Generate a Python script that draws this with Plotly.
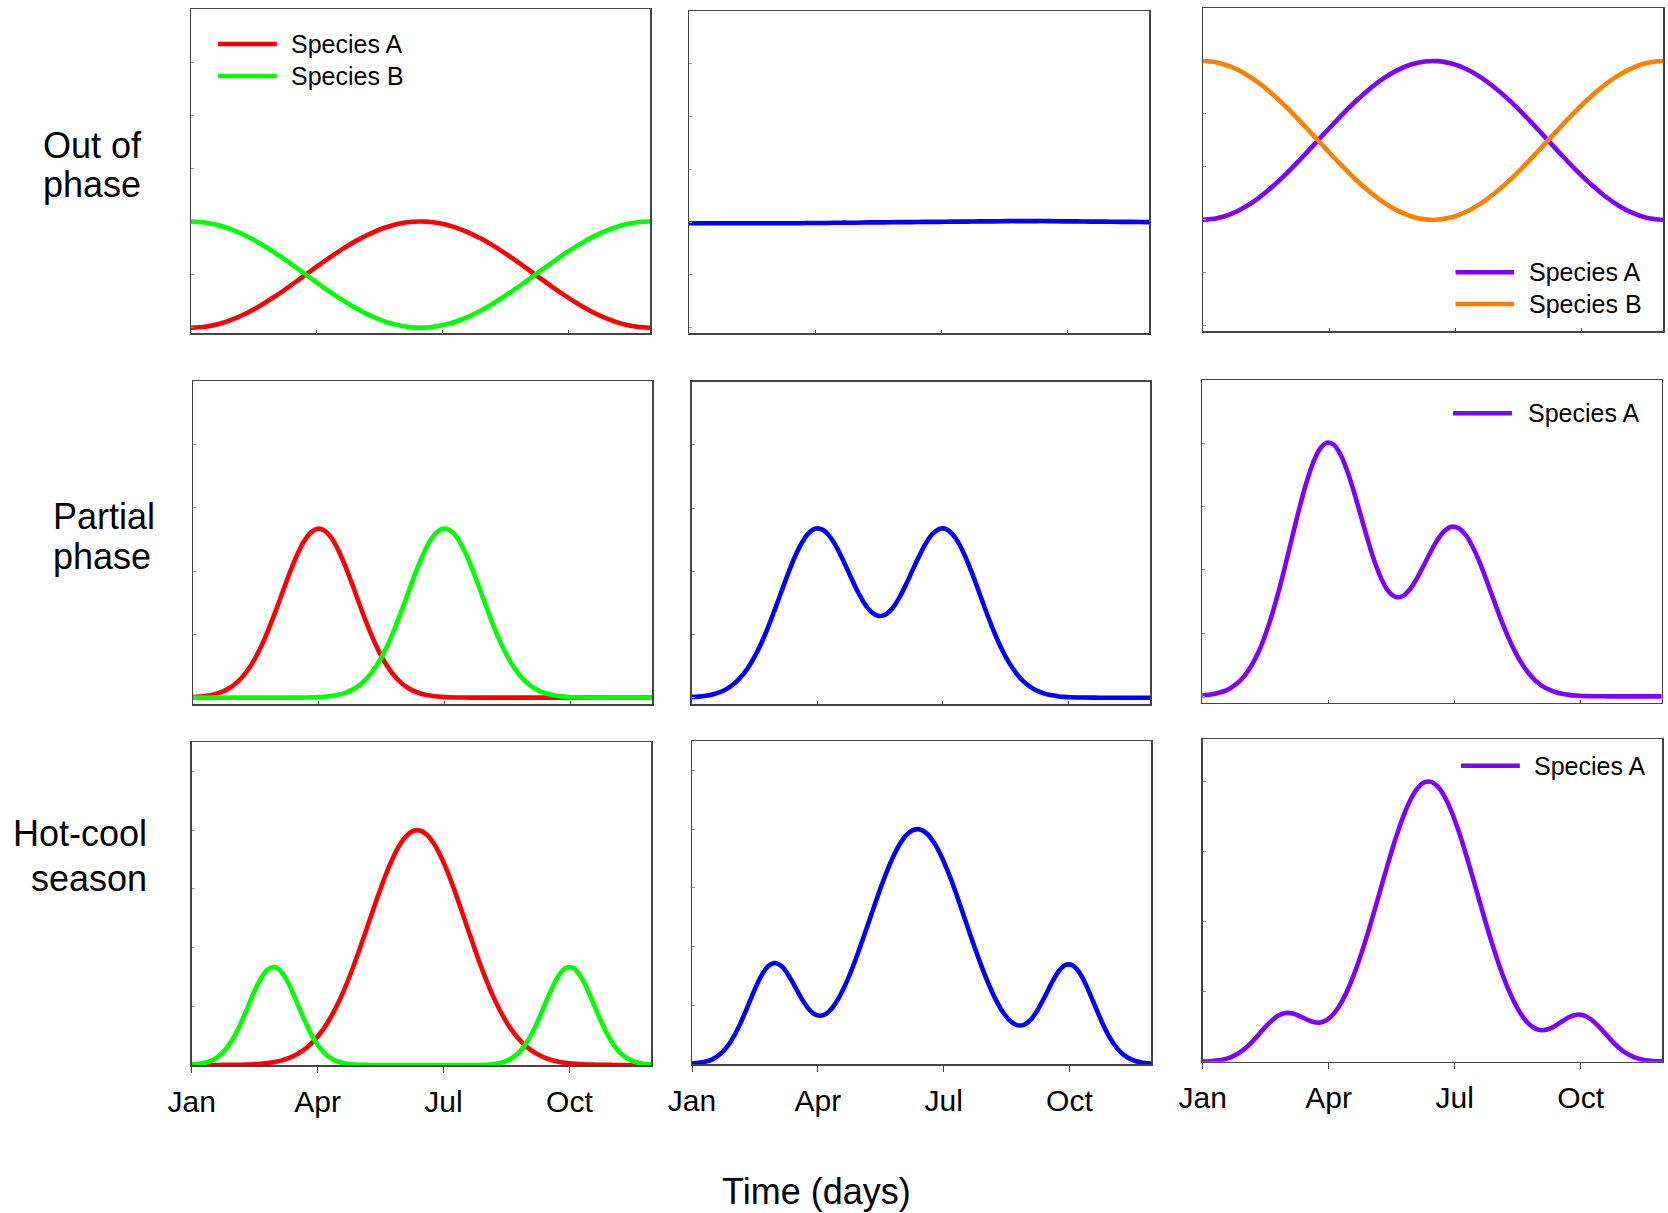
import plotly.graph_objects as go

# ---------------- data ----------------
DAYS_10 = [0, 10, 20, 30, 40, 50, 60, 70, 80, 90, 100, 110, 120, 130, 140, 150, 160,
           170, 180, 190, 200, 210, 220, 230, 240, 250, 260, 270, 280, 290, 300, 310,
           320, 330, 332]
DAYS_5 = [0, 5, 10, 15, 20, 25, 30, 35, 40, 45, 50, 55, 60, 65, 70, 75, 80, 85, 90, 95,
          100, 105, 110, 115, 120, 125, 130, 135, 140, 145, 150, 155, 160, 165, 170, 175,
          180, 185, 190, 195, 200, 205, 210, 215, 220, 225, 230, 235, 240, 245, 250, 255,
          260, 265, 270, 275, 280, 285, 290, 295, 300, 305, 310, 315, 320, 325, 330, 332]
MONTH_TICKS = [0, 91, 182, 273]
MONTH_LABELS = ["Jan", "Apr", "Jul", "Oct"]
ROW_LABELS = [["Out of", "phase"], ["Partial", "phase"], ["Hot-cool", "season"]]
X_TITLE = "Time (days)"
SPECIES = ["Species A", "Species B"]

# Row 1 : out of phase (sampled every 10 days)
OUT_RED = [0.000, 0.018, 0.071, 0.157, 0.273, 0.415, 0.578, 0.756, 0.943, 1.132, 1.316,
           1.489, 1.644, 1.777, 1.881, 1.955, 1.994, 1.997, 1.965, 1.899, 1.800, 1.673,
           1.522, 1.352, 1.170, 0.981, 0.793, 0.613, 0.447, 0.300, 0.178, 0.086, 0.026,
           0.001, 0.000]
OUT_GREEN = [2.000, 1.982, 1.929, 1.843, 1.727, 1.585, 1.422, 1.244, 1.057, 0.868, 0.684,
             0.511, 0.356, 0.223, 0.119, 0.046, 0.006, 0.003, 0.035, 0.102, 0.200, 0.327,
             0.478, 0.648, 0.831, 1.019, 1.207, 1.387, 1.554, 1.700, 1.822, 1.915, 1.974,
             1.999, 2.000]
OUT_BLUE = [1.98, 1.98, 1.98, 1.98, 1.98, 1.98, 1.98, 1.98, 1.98, 1.985, 1.985, 1.99,
            1.99, 1.995, 1.995, 2.0, 2.0, 2.005, 2.005, 2.01, 2.01, 2.015, 2.015, 2.02,
            2.02, 2.02, 2.02, 2.015, 2.015, 2.01, 2.01, 2.005, 2.005, 2.0, 2.0]
OUT_PURPLE = [2.000, 2.027, 2.107, 2.236, 2.410, 2.623, 2.867, 3.135, 3.415, 3.698, 3.974,
              4.234, 4.466, 4.666, 4.822, 4.932, 4.991, 4.996, 4.948, 4.848, 4.700, 4.509,
              4.283, 4.028, 3.754, 3.472, 3.190, 2.919, 2.670, 2.450, 2.267, 2.129, 2.039,
              2.002, 2.000]
OUT_ORANGE = [5.000, 4.973, 4.893, 4.764, 4.590, 4.377, 4.133, 3.865, 3.585, 3.302, 3.026,
              2.766, 2.534, 2.334, 2.178, 2.068, 2.009, 2.004, 2.052, 2.152, 2.300, 2.491,
              2.717, 2.972, 3.246, 3.528, 3.810, 4.081, 4.330, 4.550, 4.733, 4.871, 4.961,
              4.998, 5.000]

# Row 2 : partial phase (sampled every 5 days)
PART_RED = [0.009, 0.017, 0.030, 0.051, 0.084, 0.135, 0.208, 0.311, 0.448, 0.626, 0.843,
            1.098, 1.381, 1.679, 1.973, 2.240, 2.457, 2.605, 2.668, 2.641, 2.526, 2.334,
            2.084, 1.798, 1.500, 1.208, 0.941, 0.708, 0.515, 0.361, 0.245, 0.161, 0.102,
            0.062, 0.037, 0.021, 0.012, 0.006, 0.003, 0.002, 0.001,
            0, 0, 0, 0, 0, 0, 0, 0, 0, 0, 0, 0, 0, 0, 0, 0, 0, 0, 0, 0, 0, 0, 0, 0, 0, 0, 0]
PART_GREEN = [0, 0, 0, 0, 0, 0, 0, 0, 0, 0, 0, 0, 0, 0,
              0.001, 0.001, 0.002, 0.004, 0.008, 0.015, 0.027, 0.046, 0.076, 0.123, 0.191,
              0.288, 0.418, 0.587, 0.796, 1.044, 1.323, 1.619, 1.916, 2.190, 2.419, 2.582,
              2.663, 2.653, 2.555, 2.378, 2.138, 1.858, 1.560, 1.265, 0.992, 0.751, 0.550,
              0.389, 0.266, 0.175, 0.112, 0.069, 0.041, 0.024, 0.013, 0.007, 0.004, 0.002,
              0.001, 0, 0, 0, 0, 0, 0, 0, 0, 0]
PART_BLUE = [0.009, 0.017, 0.030, 0.051, 0.084, 0.135, 0.208, 0.311, 0.448, 0.626, 0.843,
             1.098, 1.381, 1.679, 1.974, 2.241, 2.459, 2.609, 2.676, 2.656, 2.553, 2.380,
             2.160, 1.921, 1.691, 1.496, 1.359, 1.295, 1.311, 1.405, 1.568, 1.780, 2.018,
             2.252, 2.456, 2.603, 2.675, 2.659, 2.558, 2.380, 2.139, 1.858, 1.560, 1.265,
             0.992, 0.751, 0.550, 0.389, 0.266, 0.175, 0.112, 0.069, 0.041, 0.024, 0.013,
             0.007, 0.004, 0.002, 0.001, 0, 0, 0, 0, 0, 0, 0, 0, 0]
PART_PURPLE = [0.014, 0.026, 0.045, 0.077, 0.126, 0.203, 0.312, 0.467, 0.672, 0.939, 1.265,
               1.647, 2.072, 2.519, 2.961, 3.361, 3.688, 3.912, 4.010, 3.977, 3.816, 3.547,
               3.202, 2.820, 2.441, 2.100, 1.830, 1.649, 1.569, 1.586, 1.691, 1.861, 2.069,
               2.283, 2.475, 2.614, 2.681, 2.662, 2.560, 2.381, 2.140, 1.858, 1.560, 1.265,
               0.992, 0.751, 0.550, 0.389, 0.266, 0.175, 0.112, 0.069, 0.041, 0.024, 0.013,
               0.007, 0.004, 0.002, 0.001, 0, 0, 0, 0, 0, 0, 0, 0, 0]

# Row 3 : hot-cool season (sampled every 5 days)
HOT_RED = [0.000, 0.000, 0.000, 0.000, 0.001, 0.002, 0.003, 0.005, 0.008, 0.014, 0.022,
           0.034, 0.053, 0.079, 0.117, 0.170, 0.240, 0.334, 0.454, 0.606, 0.792, 1.013,
           1.271, 1.562, 1.881, 2.219, 2.565, 2.904, 3.223, 3.504, 3.733, 3.897, 3.985,
           3.993, 3.921, 3.772, 3.555, 3.283, 2.971, 2.634, 2.288, 1.947, 1.624, 1.327,
           1.062, 0.833, 0.640, 0.482, 0.356, 0.257, 0.182, 0.126, 0.086, 0.057, 0.037,
           0.024, 0.015, 0.009, 0.006, 0.003, 0.002, 0.001, 0.001, 0.000, 0.000, 0.000,
           0.000, 0.000]
HOT_GREEN = [0.008, 0.019, 0.041, 0.084, 0.160, 0.281, 0.456, 0.687, 0.957, 1.234, 1.474,
             1.629, 1.667, 1.580, 1.386, 1.125, 0.846, 0.588, 0.379, 0.226, 0.125, 0.064,
             0.030, 0.013, 0.005, 0.002, 0.001,
             0, 0, 0, 0, 0, 0, 0, 0, 0, 0, 0, 0, 0, 0,
             0.001, 0.004, 0.009, 0.022, 0.048, 0.096, 0.180, 0.311, 0.498, 0.738, 1.013,
             1.287, 1.513, 1.647, 1.660, 1.548, 1.337, 1.069, 0.791, 0.542, 0.344, 0.202,
             0.110, 0.055, 0.026, 0.011, 0.008]
HOT_BLUE = [0.008, 0.019, 0.041, 0.084, 0.161, 0.283, 0.459, 0.692, 0.965, 1.248, 1.496,
            1.663, 1.720, 1.659, 1.503, 1.295, 1.086, 0.922, 0.833, 0.832, 0.917, 1.077,
            1.301, 1.575, 1.886, 2.221, 2.566, 2.904, 3.223, 3.504, 3.733, 3.897, 3.985,
            3.993, 3.921, 3.772, 3.555, 3.283, 2.971, 2.634, 2.288, 1.948, 1.628, 1.336,
            1.084, 0.881, 0.736, 0.662, 0.667, 0.755, 0.920, 1.139, 1.373, 1.570, 1.684,
            1.684, 1.563, 1.346, 1.075, 0.794, 0.544, 0.345, 0.203, 0.110, 0.055, 0.026,
            0.011, 0.008]
HOT_PURPLE = [0.003, 0.007, 0.016, 0.032, 0.063, 0.110, 0.179, 0.269, 0.376, 0.489, 0.589,
              0.661, 0.695, 0.687, 0.651, 0.603, 0.566, 0.560, 0.600, 0.693, 0.840, 1.038,
              1.283, 1.567, 1.883, 2.220, 2.565, 2.904, 3.223, 3.504, 3.733, 3.897, 3.985,
              3.993, 3.921, 3.772, 3.555, 3.283, 2.971, 2.634, 2.288, 1.947, 1.626, 1.330,
              1.070, 0.851, 0.677, 0.551, 0.476, 0.449, 0.466, 0.516, 0.581, 0.640, 0.671,
              0.663, 0.611, 0.524, 0.418, 0.308, 0.211, 0.133, 0.079, 0.042, 0.021, 0.010,
              0.004, 0.003]

# ---------------- style ----------------
RED, GREEN, BLUE = "#FF0000", "#00FF00", "#0000FF"
PURPLE, ORANGE = "#8000FF", "#FF8000"
FONT = "Liberation Sans, Arial, sans-serif"
W, H = 1668, 1213
LW = 4.6


def px(x):
    return x / W


def py(y):
    return 1 - y / H


# panel boxes in screen pixels (left, right, top, bottom), row-major
BOXES = [
    (191, 650, 9, 333), (689, 1149, 11, 333), (1203, 1663, 8, 331),
    (193, 652, 381, 704), (691.7, 1150, 381.7, 704), (1202.3, 1661.7, 380, 702.7),
    (191.7, 651, 742, 1065), (692, 1151, 741, 1064), (1202.7, 1662.3, 739.3, 1061.7),
]
YRANGES = [[-0.1, 6], [-0.1, 6], [-0.1, 6],
           [-0.1, 5], [-0.1, 5], [-0.1, 5],
           [0, 5.5], [0, 5.5], [0, 4.6]]

panels = [
    (DAYS_10, [(OUT_RED, RED), (OUT_GREEN, GREEN)]),
    (DAYS_10, [(OUT_BLUE, BLUE)]),
    (DAYS_10, [(OUT_PURPLE, PURPLE), (OUT_ORANGE, ORANGE)]),
    (DAYS_5, [(PART_RED, RED), (PART_GREEN, GREEN)]),
    (DAYS_5, [(PART_BLUE, BLUE)]),
    (DAYS_5, [(PART_PURPLE, PURPLE)]),
    (DAYS_5, [(HOT_RED, RED), (HOT_GREEN, GREEN)]),
    (DAYS_5, [(HOT_BLUE, BLUE)]),
    (DAYS_5, [(HOT_PURPLE, PURPLE)]),
]

fig = go.Figure()
layout = dict(
    width=W, height=H,
    margin=dict(l=0, r=0, t=0, b=0, pad=0, autoexpand=False),
    paper_bgcolor="white", plot_bgcolor="white", showlegend=False,
    font=dict(family=FONT, color="black"),
)

for i, ((xs, series), box, yr) in enumerate(zip(panels, BOXES, YRANGES)):
    n = i + 1
    sx = "" if n == 1 else str(n)
    for vals, col in series:
        fig.add_trace(go.Scatter(
            x=xs, y=vals, mode="lines",
            line=dict(color=col, width=LW, shape="spline", smoothing=1.0),
            xaxis="x" + sx, yaxis="y" + sx, hoverinfo="skip",
        ))
    l, r, t, b = box
    bottom_row = i >= 6
    layout["xaxis" + sx] = dict(
        domain=[px(l), px(r)], anchor="y" + sx, range=[0, 332],
        tickmode="array", tickvals=MONTH_TICKS, ticktext=MONTH_LABELS,
        showticklabels=bottom_row,
        ticks="outside" if bottom_row else "inside",
        ticklen=6 if bottom_row else 3, tickwidth=1, tickcolor="#444",
        tickfont=dict(size=30, family=FONT, color="black"),
        ticklabelstandoff=3,
        showline=True, mirror=True, linecolor="#444", linewidth=1.5,
        showgrid=False, zeroline=False, fixedrange=True, automargin=False,
    )
    layout["yaxis" + sx] = dict(
        domain=[py(b), py(t)], anchor="x" + sx, range=yr,
        tick0=0, dtick=1, ticks="inside", ticklen=3, tickwidth=1, tickcolor="#999",
        showticklabels=False,
        showline=True, mirror=True, linecolor="#444", linewidth=1.5,
        showgrid=False, zeroline=False, fixedrange=True, automargin=False,
    )

fig.update_layout(**layout)

annotations = []
shapes = []

# row labels (two lines each), centre positions in screen pixels
ROW_LABEL_POS = [
    [(92, 145), (92, 184)],
    [(104, 516), (101.5, 556)],
    [(80, 833), (88.5, 878)],
]
for lines, poss in zip(ROW_LABELS, ROW_LABEL_POS):
    for txt, (ax, ay) in zip(lines, poss):
        annotations.append(dict(
            text=txt, x=px(ax), y=py(ay), xref="paper", yref="paper",
            xanchor="center", yanchor="middle", showarrow=False,
            font=dict(size=36, family=FONT, color="black"),
        ))

# common x title
annotations.append(dict(
    text=X_TITLE, x=px(816), y=py(1191), xref="paper", yref="paper",
    xanchor="center", yanchor="middle", showarrow=False,
    font=dict(size=36, family=FONT, color="black"),
))

# in-panel legends: (panel, [(label, colour, y)], line x0, line x1, text x)
LEGENDS = [
    (1, [(SPECIES[0], RED, 0.892), (SPECIES[1], GREEN, 0.793)], 0.0587, 0.187, 0.214),
    (3, [(SPECIES[0], PURPLE, 0.182), (SPECIES[1], ORANGE, 0.0836)], 0.549, 0.676, 0.704),
    (6, [(SPECIES[0], PURPLE, 0.897)], 0.546, 0.674, 0.705),
    (9, [(SPECIES[0], PURPLE, 0.918)], 0.562, 0.690, 0.716),
]
for n, entries, x0, x1, xt in LEGENDS:
    sx = "" if n == 1 else str(n)
    for label, col, yy in entries:
        shapes.append(dict(
            type="line", xref="x" + sx + " domain", yref="y" + sx + " domain",
            x0=x0, x1=x1, y0=yy, y1=yy, line=dict(color=col, width=LW),
        ))
        annotations.append(dict(
            text=label, xref="x" + sx + " domain", yref="y" + sx + " domain",
            x=xt, y=yy, xanchor="left", yanchor="middle", showarrow=False,
            font=dict(size=25, family=FONT, color="black"),
        ))

fig.update_layout(annotations=annotations, shapes=shapes)
fig.write_html(
    "out.html",
    config={"displayModeBar": False, "staticPlot": True},
    post_script=("document.documentElement.style.overflow='hidden';"
                 "document.body.style.margin='0px';"
                 "document.body.style.overflow='hidden';"),
)
